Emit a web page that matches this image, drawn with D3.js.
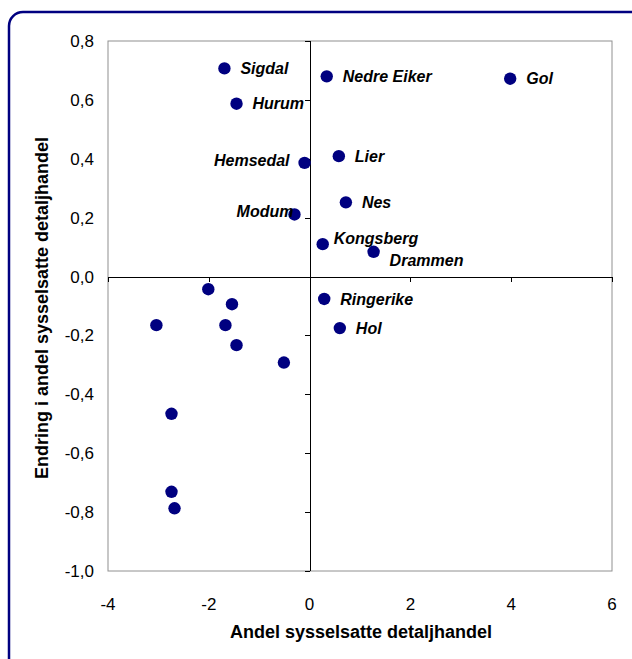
<!DOCTYPE html>
<html>
<head>
<meta charset="utf-8">
<script src="https://cdn.jsdelivr.net/npm/d3@7"></script>
<style>
  body { margin: 0; background: #fff; }
  svg { display: block; font-family: Arial, "Liberation Sans", sans-serif; }
</style>
</head>
<body>
<svg class="chart"></svg>
<script>
// named kommuner (label, x, y)
var names = ["Sigdal", "Hurum", "Hemsedal", "Modum", "Nedre Eiker", "Gol",
             "Lier", "Nes", "Kongsberg", "Drammen", "Ringerike", "Hol"];
var xVals = [-1.69, -1.45, -0.10, -0.30, 0.34, 3.98, 0.58, 0.72, 0.26, 1.27, 0.29, 0.60];
var yVals = [0.707, 0.587, 0.386, 0.211, 0.680, 0.672, 0.409, 0.252, 0.110, 0.084, -0.076, -0.175];
// label placement: r = right, l = left, ur = up-right, dr = down-right
var labelPos = ["r", "r", "l", "l", "r", "r", "r", "r", "ur", "dr", "r", "r"];

// unlabeled points
var xOther = [-2.01, -1.54, -3.04, -1.67, -1.45, -0.51, -2.74, -2.74, -2.68];
var yOther = [-0.043, -0.094, -0.165, -0.165, -0.233, -0.292, -0.466, -0.731, -0.787];

var xTicks = [-4, -2, 0, 2, 4, 6];
var yTicks = [-1.0, -0.8, -0.6, -0.4, -0.2, 0, 0.2, 0.4, 0.6, 0.8];

var W = 632, H = 659;
var margin = {top: 41, right: 20, bottom: 88, left: 108},
    width = 612 - margin.left,
    height = 571 - margin.top;

var svg = d3.select(".chart")
    .attr("width", W)
    .attr("height", H);

// outer frame
svg.append("rect")
    .attr("x", 9).attr("y", 12)
    .attr("width", 640).attr("height", 660)
    .attr("rx", 14).attr("ry", 14)
    .attr("fill", "none")
    .attr("stroke", "#000080")
    .attr("stroke-width", 2.5);

var chart = svg.append("g")
    .attr("transform", "translate(" + margin.left + "," + margin.top + ")");

var x = d3.scaleLinear().domain([-4, 6]).range([0, width]);
var y = d3.scaleLinear().domain([-1, 0.8]).range([height, 0]);

var fmt = function(d) {
  return d3.format(".1f")(d).replace(".", ",").replace("\u2212", "-");
};

// plot area border
chart.append("rect")
    .attr("width", width)
    .attr("height", height)
    .attr("fill", "none")
    .attr("stroke", "#909090")
    .attr("stroke-width", 1);

// x axis through y = 0
var xAxis = d3.axisBottom(x).tickValues(xTicks).tickSize(5).tickFormat("");
chart.append("g")
    .attr("class", "x axis")
    .attr("transform", "translate(0," + y(0) + ")")
    .call(xAxis)
    .call(function(g) { g.select(".domain").attr("d", "M0,0.5H" + width); });

// y axis through x = 0
var yAxis = d3.axisLeft(y).tickValues(yTicks).tickSize(5).tickFormat("");
chart.append("g")
    .attr("class", "y axis")
    .attr("transform", "translate(" + x(0) + ",0)")
    .call(yAxis)
    .call(function(g) { g.select(".domain").attr("d", "M0.5,0V" + height); });

chart.selectAll(".axis path, .axis line")
    .attr("stroke", "#000")
    .attr("shape-rendering", "crispEdges");

// tick labels on plot edges
chart.selectAll(".xlab")
    .data(xTicks)
    .enter().append("text")
    .attr("class", "xlab")
    .attr("x", function(d) { return x(d); })
    .attr("y", height + 39)
    .attr("text-anchor", "middle")
    .style("font-size", "17px")
    .text(function(d) { return String(d); });

chart.selectAll(".ylab")
    .data(yTicks)
    .enter().append("text")
    .attr("class", "ylab")
    .attr("x", -14)
    .attr("y", function(d) { return y(d) + 6; })
    .attr("text-anchor", "end")
    .style("font-size", "17px")
    .text(fmt);

// axis titles
svg.append("text")
    .attr("x", 361)
    .attr("y", 638)
    .attr("text-anchor", "middle")
    .style("font-size", "18px")
    .style("font-weight", "bold")
    .text("Andel sysselsatte detaljhandel");

svg.append("text")
    .attr("transform", "translate(48,308) rotate(-90)")
    .attr("text-anchor", "middle")
    .style("font-size", "18px")
    .style("font-weight", "bold")
    .text("Endring i andel sysselsatte detaljhandel");

// points
var named = names.map(function(n, i) {
  return {name: n, x: xVals[i], y: yVals[i], pos: labelPos[i]};
});
var others = xOther.map(function(v, i) { return {x: v, y: yOther[i]}; });

chart.selectAll(".dot")
    .data(others.concat(named))
    .enter().append("circle")
    .attr("class", "dot")
    .attr("cx", function(d) { return x(d.x); })
    .attr("cy", function(d) { return y(d.y); })
    .attr("r", 6.2)
    .attr("fill", "#000080");

var off = {
  r:  {dx: 16, dy: 0, anchor: "start"},
  l:  {dx: -15, dy: -3, anchor: "end"},
  ur: {dx: 11, dy: -6, anchor: "start"},
  dr: {dx: 16, dy: 8, anchor: "start"}
};

chart.selectAll(".lbl")
    .data(named)
    .enter().append("text")
    .attr("class", "lbl")
    .attr("x", function(d) { return x(d.x) + (d.name == "Modum" ? -1 : off[d.pos].dx); })
    .attr("y", function(d) { return y(d.y) + off[d.pos].dy; })
    .attr("dy", "0.36em")
    .attr("text-anchor", function(d) { return off[d.pos].anchor; })
    .style("font-size", "16px")
    .style("font-weight", "bold")
    .style("font-style", "italic")
    .text(function(d) { return d.name; });
</script>
</body>
</html>
